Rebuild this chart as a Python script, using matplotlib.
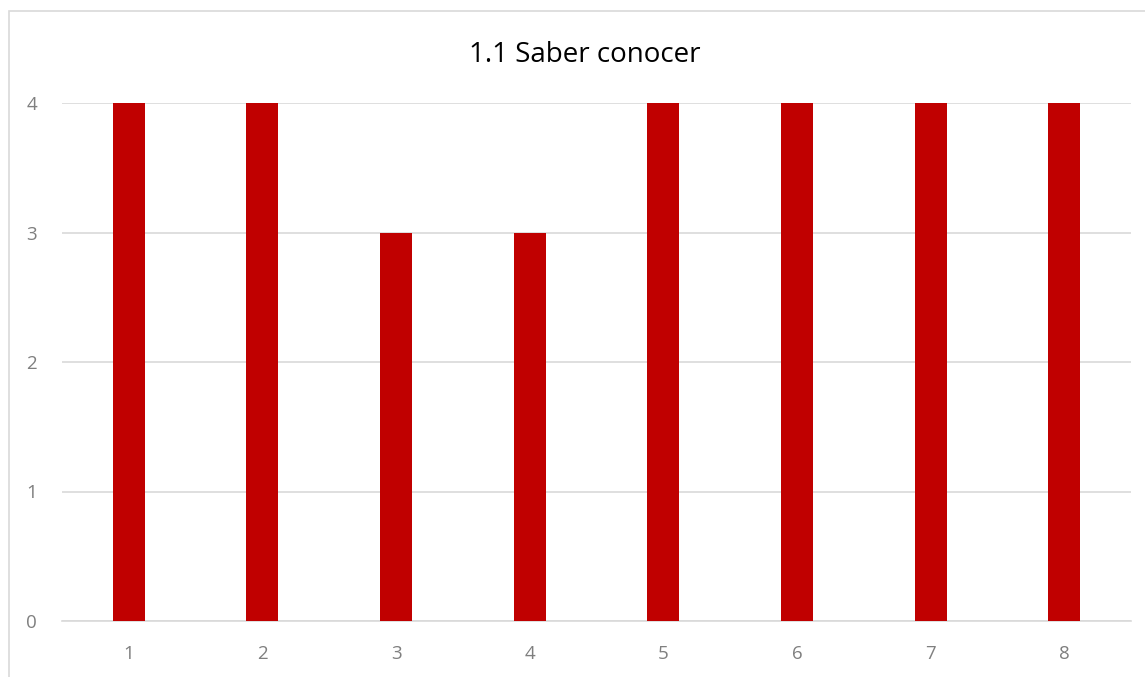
import matplotlib
matplotlib.use("Agg")
import matplotlib.pyplot as plt
from matplotlib.patches import Rectangle

categorias = [1, 2, 3, 4, 5, 6, 7, 8]
valores = [4, 4, 3, 3, 4, 4, 4, 4]
y_ticks = [0, 1, 2, 3, 4]
titulo = "1.1 Saber conocer"


def main():
    plt.rcParams['font.family'] = ['Open Sans', 'DejaVu Sans']
    W, H = 1145, 677
    fig = plt.figure(figsize=(W / 100, H / 100), dpi=100)

    # marco del grafico
    fig.patches.append(Rectangle((9 / W, -0.1), 1.2, 1.1 - 11 / H, transform=fig.transFigure,
                                 facecolor='none', edgecolor='#D9D9D9', linewidth=1.2))

    ax = fig.add_axes([62 / W, 56 / H, (1131 - 62) / W, (621 - 103) / H])
    ax.bar(categorias, valores, width=0.24, color='#C00000', zorder=3)
    ax.set_xlim(0.5, 8.5)
    ax.set_ylim(0, 4)
    ax.set_xticks(categorias)
    ax.set_yticks(y_ticks)
    ax.yaxis.grid(True, color='#D9D9D9', linewidth=1.2, zorder=0)
    for s in ['top', 'right', 'left']:
        ax.spines[s].set_visible(False)
    ax.spines['bottom'].set_color('#D9D9D9')
    ax.spines['bottom'].set_linewidth(1.2)
    ax.tick_params(length=0, labelcolor='#7F7F7F', labelsize=13.5)
    ax.tick_params(axis='x', pad=17)
    ax.tick_params(axis='y', pad=18)

    fig.text(585 / W, 1 - 55 / H, titulo, ha='center', va='center', fontsize=20, color='#000000')

    fig.savefig("out.png", dpi=100)


if __name__ == "__main__":
    main()
